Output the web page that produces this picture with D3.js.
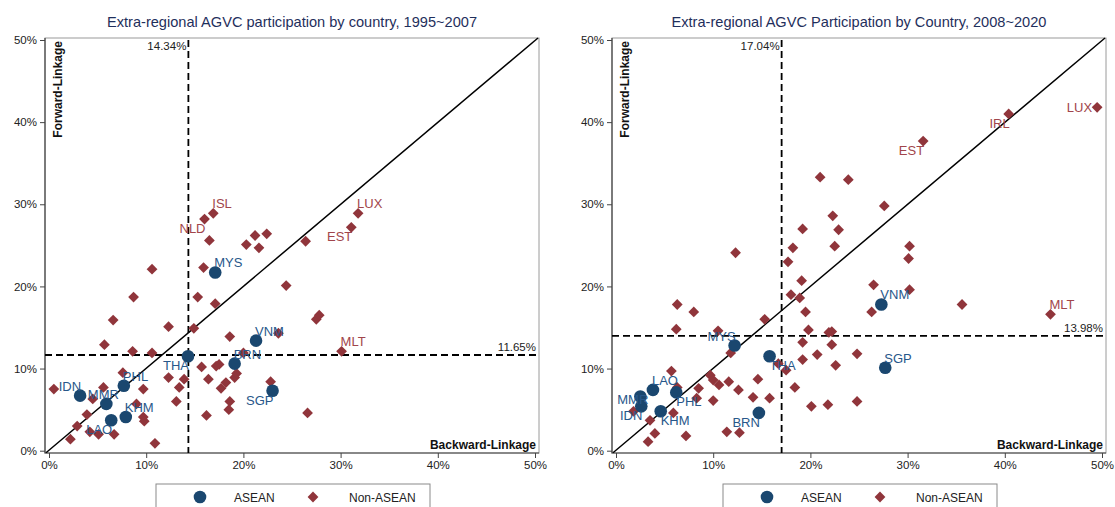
<!DOCTYPE html>
<html>
<head>
<meta charset="utf-8">
<script src="https://cdn.jsdelivr.net/npm/d3@7"></script>
<style>
	body { margin: 0; background: #fff; }
	svg { display: block; font-family: "Liberation Sans", Arial, sans-serif; }
</style>
</head>
<body>
<svg id="chart" width="1115" height="507"></svg>
<script>
// axis ticks (percent)
var tickValues = [0, 10, 20, 30, 40, 50];
var legendNames = ['ASEAN', 'Non-ASEAN'];

// ---- 1995~2007 ----
var asean1Codes = ['IDN', 'MMR', 'PHL', 'KHM', 'LAO', 'THA', 'BRN', 'VNM', 'SGP', 'MYS'];
var asean1Bwd   = [3.2, 5.9, 7.7, 7.9, 6.4, 14.3, 19.1, 21.3, 23.0, 17.1];
var asean1Fwd   = [6.7, 5.7, 7.9, 4.1, 3.7, 11.5, 10.6, 13.4, 7.3, 21.7];

// labelled countries come first, the rest have no label
var other1Codes = ['ISL', 'NLD', 'LUX', 'EST', 'MLT'];
var other1Bwd = [16.9, 16.0, 31.8, 31.1, 30.1,
	16.5, 21.2, 22.4, 20.3, 21.6, 26.4, 15.9, 10.6, 24.4, 8.7, 15.3, 17.1, 27.5, 27.8,
	6.6, 12.3, 14.9, 5.7, 8.6, 10.6, 18.6, 23.6, 20.0, 15.7, 17.5, 17.2, 12.3, 13.9,
	13.4, 16.4, 17.7, 18.2, 19.1, 19.3, 22.8, 18.6, 18.5, 16.2, 26.6, 13.1, 10.9, 0.5,
	3.9, 4.5, 5.6, 7.6, 9.7, 9.0, 9.7, 9.8, 2.9, 2.2, 4.2, 5.1, 6.7];
var other1Fwd = [28.9, 28.2, 28.9, 27.2, 12.1,
	25.6, 26.2, 26.4, 25.1, 24.7, 25.5, 22.3, 22.1, 20.1, 18.7, 18.7, 17.9, 16.0, 16.5,
	15.9, 15.1, 14.9, 12.9, 12.1, 11.9, 13.9, 14.3, 11.9, 10.2, 10.5, 10.3, 8.9, 8.7,
	7.7, 8.7, 7.6, 8.3, 8.9, 9.4, 8.4, 6.0, 5.0, 4.3, 4.6, 6.0, 0.9, 7.5,
	4.4, 6.3, 7.7, 9.5, 7.5, 5.7, 4.1, 3.6, 3.0, 1.4, 2.3, 2.0, 2.0];
var meanBwd1 = 14.34;
var meanFwd1 = 11.65;

// ---- 2008~2020 ----
var asean2Codes = ['MYS', 'THA', 'VNM', 'SGP', 'LAO', 'PHL', 'MMR', 'IDN', 'KHM', 'BRN'];
var asean2Bwd   = [12.2, 15.8, 27.3, 27.7, 3.8, 6.2, 2.5, 2.6, 4.6, 14.7];
var asean2Fwd   = [12.8, 11.5, 17.8, 10.1, 7.4, 7.1, 6.6, 5.4, 4.8, 4.6];

var other2Codes = ['LUX', 'IRL', 'EST', 'MLT'];
var other2Bwd = [49.5, 40.4, 31.6, 44.7,
	21.0, 23.9, 27.6, 22.3, 19.2, 22.9, 18.2, 22.5, 12.3, 17.7, 30.2, 30.1, 19.1, 18.0,
	18.9, 19.5, 26.5, 30.2, 35.6, 26.3, 15.3, 6.3, 8.0, 6.2, 10.5, 19.8, 19.2, 21.9,
	22.2, 22.2, 11.8, 16.7, 17.5, 19.2, 20.7, 22.6, 24.8, 24.8, 18.4, 20.1, 21.8, 5.7,
	6.3, 1.8, 3.5, 4.0, 3.3, 5.9, 7.2, 8.5, 8.3, 9.7, 10.0, 10.6, 10.0, 11.6, 12.6,
	14.1, 14.6, 15.8, 11.4, 12.7];
var other2Fwd = [41.8, 41.0, 37.7, 16.6,
	33.3, 33.0, 29.8, 28.6, 27.0, 26.9, 24.7, 24.9, 24.1, 23.0, 24.9, 23.4, 20.7, 19.0,
	18.6, 16.9, 20.2, 19.6, 17.8, 16.9, 16.0, 17.8, 16.9, 14.8, 14.6, 14.7, 13.2, 14.4,
	14.5, 12.9, 11.9, 10.6, 9.8, 11.1, 11.7, 10.4, 11.8, 6.0, 7.7, 5.4, 5.6, 9.7,
	7.7, 4.8, 3.7, 2.1, 1.1, 4.6, 1.8, 7.6, 6.4, 9.2, 8.6, 8.0, 6.1, 8.4, 7.4,
	6.5, 8.7, 6.4, 2.3, 2.2];
var meanBwd2 = 17.04;
var meanFwd2 = 13.98;

// marker label position (clock, like stata mlabvpos)
var labelPos1 = { IDN: 11, MMR: 12, PHL: 1, KHM: 1, LAO: 7, THA: 7, BRN: 1, VNM: 1, SGP: 7, MYS: 1,
	ISL: 1, NLD: 7, LUX: 1, EST: 7, MLT: 1 };
var labelPos2 = { MYS: 11, THA: 5, VNM: 1, SGP: 1, LAO: 1, PHL: 5, MMR: 8, IDN: 7, KHM: 5, BRN: 7,
	LUX: 9, IRL: 7, EST: 7, MLT: 1 };

var NAVY = '#1a476f';
var MAROON = '#90353b';

var svg = d3.select('#chart');
var diamond = d3.symbol().type(d3.symbolSquare).size(58);

function toPoints(codes, bwd, fwd) {
	var arr = [];
	bwd.forEach(function(b, i) {
		arr.push({ code: codes[i] || '', x: b, y: fwd[i] });
	});
	return arr;
}

function labelAttr(pos) {
	var r = 9.5;
	if (pos == 1) return { anchor: 'start', dx: -1, dy: -r };
	if (pos == 11) return { anchor: 'end', dx: 1, dy: -r };
	if (pos == 12) return { anchor: 'middle', dx: -3, dy: -r };
	if (pos == 5) return { anchor: 'start', dx: 0, dy: r };
	if (pos == 7) return { anchor: 'end', dx: 1, dy: r };
	if (pos == 8) return { anchor: 'end', dx: 8, dy: 3 };
	if (pos == 9) return { anchor: 'end', dx: -5, dy: 0 };
	return { anchor: 'start', dx: 6, dy: 0 };
}

function drawPanel(cfg) {
	var f = cfg.frame;
	var x = d3.scaleLinear().domain([0, 50]).range([f.left + 4, f.right - 4]);
	var y = d3.scaleLinear().domain([0, 50]).range([f.bottom - 2.3, f.top + 2]);
	var g = svg.append('g');

	// title
	g.append('text')
		.attr('x', (f.left + f.right) / 2).attr('y', 27)
		.attr('text-anchor', 'middle')
		.style('font-size', '14.6px').style('fill', '#1f2f5c')
		.text(cfg.title);

	// frame
	g.append('rect')
		.attr('x', f.left).attr('y', f.top)
		.attr('width', f.right - f.left).attr('height', f.bottom - f.top)
		.attr('fill', 'none').attr('stroke', '#9a9a9a').attr('stroke-width', 1);
	g.append('path')
		.attr('d', 'M' + f.left + ',' + f.top + 'V' + f.bottom + 'H' + f.right)
		.attr('fill', 'none').attr('stroke', '#444').attr('stroke-width', 1.2);

	// axes
	var yAxis = g.append('g')
		.attr('transform', 'translate(' + f.left + ',0)')
		.call(d3.axisLeft(y).tickValues(tickValues).tickSize(5).tickFormat(function(d) { return d + '%'; }));
	var xAxis = g.append('g')
		.attr('transform', 'translate(0,' + f.bottom + ')')
		.call(d3.axisBottom(x).tickValues(tickValues).tickSize(5).tickFormat(function(d) { return d + '%'; }));
	[yAxis, xAxis].forEach(function(a) {
		a.select('.domain').remove();
		a.selectAll('line').attr('stroke', '#444');
		a.selectAll('text').style('font-size', '11.5px').style('fill', '#222').attr('font-family', null);
	});

	// 45 degree line
	g.append('line')
		.attr('x1', x(0) - 3).attr('y1', y(0) + 2)
		.attr('x2', x(50) + 3).attr('y2', y(50) - 2)
		.attr('stroke', '#000').attr('stroke-width', 1.5);

	// mean lines
	g.append('line')
		.attr('x1', x(cfg.meanX)).attr('x2', x(cfg.meanX))
		.attr('y1', f.top + 2).attr('y2', f.bottom)
		.attr('stroke', '#000').attr('stroke-width', 1.8).attr('stroke-dasharray', '7,4');
	g.append('line')
		.attr('x1', f.left).attr('x2', f.right)
		.attr('y1', y(cfg.meanY)).attr('y2', y(cfg.meanY))
		.attr('stroke', '#000').attr('stroke-width', 1.8).attr('stroke-dasharray', '7,4');
	g.append('text')
		.attr('x', x(cfg.meanX) - 2).attr('y', f.top + 12)
		.attr('text-anchor', 'end').style('font-size', '11.5px').style('fill', '#222')
		.text(cfg.meanX.toFixed(2) + '%');
	g.append('text')
		.attr('x', f.right - 3).attr('y', y(cfg.meanY) - 4)
		.attr('text-anchor', 'end').style('font-size', '11.5px').style('fill', '#222')
		.text(cfg.meanY.toFixed(2) + '%');

	// axis titles inside the plot
	g.append('text')
		.attr('transform', 'translate(' + (f.left + 17) + ',' + (f.top + 3) + ') rotate(-90)')
		.attr('text-anchor', 'end')
		.style('font-size', '12px').style('font-weight', 'bold').style('fill', '#111')
		.text('Forward-Linkage');
	g.append('text')
		.attr('x', f.right - 3).attr('y', f.bottom - 4)
		.attr('text-anchor', 'end')
		.style('font-size', '12px').style('font-weight', 'bold').style('fill', '#111')
		.text('Backward-Linkage');

	// markers
	g.append('g').selectAll('path').data(cfg.other).enter().append('path')
		.attr('d', diamond)
		.attr('transform', function(d) { return 'translate(' + x(d.x) + ',' + y(d.y) + ') rotate(45)'; })
		.attr('fill', MAROON);
	g.append('g').selectAll('circle').data(cfg.asean).enter().append('circle')
		.attr('cx', function(d) { return x(d.x); })
		.attr('cy', function(d) { return y(d.y); })
		.attr('r', 6.3)
		.attr('fill', NAVY);

	// marker labels
	var labelled = cfg.asean.map(function(d) { d.color = '#28578a'; return d; })
		.concat(cfg.other.filter(function(d) { return d.code != ''; }).map(function(d) { d.color = '#a1454b'; return d; }));
	g.append('g').selectAll('text').data(labelled).enter().append('text')
		.each(function(d) {
			var la = labelAttr(cfg.labelPos[d.code]);
			d3.select(this)
				.attr('x', x(d.x) + la.dx)
				.attr('y', y(d.y) + la.dy)
				.attr('text-anchor', la.anchor);
		})
		.attr('dominant-baseline', 'central')
		.style('font-size', '13px')
		.style('fill', function(d) { return d.color; })
		.text(function(d) { return d.code; });

	// legend
	var lx = cfg.legendX;
	var lg = g.append('g');
	lg.append('rect')
		.attr('x', lx).attr('y', 484).attr('width', 274).attr('height', 40)
		.attr('fill', '#fff').attr('stroke', '#8a8a8a');
	lg.append('circle').attr('cx', lx + 44).attr('cy', 497).attr('r', 6.3).attr('fill', NAVY);
	lg.append('text').attr('x', lx + 78).attr('y', 501.5)
		.style('font-size', '12px').style('fill', '#222').text(legendNames[0]);
	lg.append('path').attr('d', diamond)
		.attr('transform', 'translate(' + (lx + 157) + ',497) rotate(45)').attr('fill', MAROON);
	lg.append('text').attr('x', lx + 193).attr('y', 501.5)
		.style('font-size', '12px').style('fill', '#222').text(legendNames[1]);
}

drawPanel({
	title: 'Extra-regional AGVC participation by country, 1995~2007',
	frame: { left: 45, right: 539, top: 38, bottom: 453 },
	asean: toPoints(asean1Codes, asean1Bwd, asean1Fwd),
	other: toPoints(other1Codes, other1Bwd, other1Fwd),
	meanX: meanBwd1, meanY: meanFwd1,
	labelPos: labelPos1,
	legendX: 156
});

drawPanel({
	title: 'Extra-regional AGVC Participation by Country, 2008~2020',
	frame: { left: 612, right: 1106, top: 38, bottom: 453 },
	asean: toPoints(asean2Codes, asean2Bwd, asean2Fwd),
	other: toPoints(other2Codes, other2Bwd, other2Fwd),
	meanX: meanBwd2, meanY: meanFwd2,
	labelPos: labelPos2,
	legendX: 723
});
</script>
</body>
</html>
